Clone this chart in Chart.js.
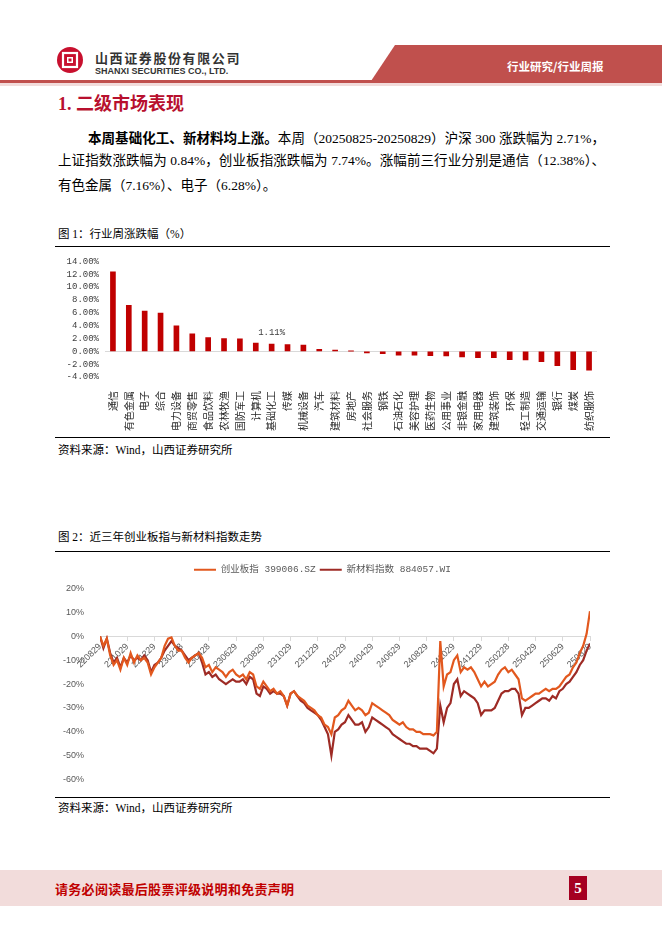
<!DOCTYPE html>
<html lang="zh-CN">
<head>
<meta charset="utf-8">
<title>行业周报 - 二级市场表现</title>
<script src="https://cdn.jsdelivr.net/npm/chart.js@4.4.1/dist/chart.umd.min.js"></script>
<style>
  html, body { margin: 0; padding: 0; background: #fff; }
  body { width: 662px; height: 936px; position: relative; overflow: hidden;
         font-family: "Liberation Serif", "Noto Sans CJK SC", serif; color: #000; }
  .abs { position: absolute; white-space: nowrap; }
  .banner { left: 0; top: 45px; width: 662px; height: 36px; background: #c0504d;
            clip-path: polygon(395px 0, 662px 0, 662px 36px, 371px 36px); }
  .banner-text { left: 507px; top: 58px; font: bold 11.5px "Noto Sans CJK SC", sans-serif; color: #fff; }
  .co-cn { left: 95px; top: 48px; font: bold 13px "Noto Sans CJK SC", sans-serif; color: #333; letter-spacing: 1.6px; }
  .co-en { left: 95px; top: 66px; font: bold 9px "Liberation Sans", sans-serif; color: #333; }
  .title { left: 58px; top: 89px; font: bold 18px "Liberation Serif", "Noto Sans CJK SC", serif; color: #b8102e; }
  .para { font-size: 13.5px; line-height: 20px; text-align: justify; text-align-last: justify; }
  .para b { font-family: "Noto Sans CJK SC", sans-serif; }
  .cap { left: 58px; font-size: 11.5px; line-height: 16px; }
  .rule { left: 55px; width: 555px; height: 1.5px; background: #000; }
  .footer { left: 0; top: 870px; width: 662px; height: 36px; background: #f2dcdb; }
  .footer-text { left: 55px; top: 879px; font: bold 13px "Noto Sans CJK SC", sans-serif; color: #c00000; letter-spacing: 0.3px; }
  .page-no { left: 569px; top: 876px; width: 18px; height: 24px; background: #a50021; color: #fff;
             font: bold 15px "Liberation Serif", serif; text-align: center; line-height: 24px; }
</style>
</head>
<body>

<!-- header -->
<svg class="abs" style="left:56px;top:46px" width="28" height="28" viewBox="0 0 28 28">
  <circle cx="14" cy="14" r="13" fill="#c8102e"/>
  <rect x="7" y="7" width="14" height="14" fill="none" stroke="#fff" stroke-width="2.2"/>
  <rect x="11" y="11" width="6" height="6" fill="#fff"/>
  <rect x="12.5" y="12.5" width="3" height="3" fill="#c8102e"/>
</svg>
<div class="abs co-cn">山西证券股份有限公司</div>
<div class="abs co-en">SHANXI SECURITIES CO., LTD.</div>
<div class="abs banner"></div>
<div class="abs banner-text">行业研究/行业周报</div>
<div class="abs" style="left:0;top:80px;width:662px;height:3px;background:#c0504d"></div>
<div class="abs" style="left:0;top:83px;width:662px;height:3px;background:#f2dcdb"></div>

<div class="abs title">1. 二级市场表现</div>

<div class="abs para" style="left:88px;top:127px;width:517px"><b>本周基础化工、新材料均上涨。</b>本周（20250825-20250829）沪深 300 涨跌幅为 2.71%，</div>
<div class="abs para" style="left:58px;top:151px;width:547px">上证指数涨跌幅为 0.84%，创业板指涨跌幅为 7.74%。涨幅前三行业分别是通信（12.38%）、</div>
<div class="abs para" style="left:58px;top:176px;text-align:left;text-align-last:left">有色金属（7.16%）、电子（6.28%）。</div>

<!-- figure 1 -->
<div class="abs cap" style="top:226px">图 1：行业周涨跌幅（%）</div>
<div class="abs rule" style="top:245.5px"></div>
<canvas id="barChart" class="abs" style="left:55px;top:250px" width="555" height="182"></canvas>
<div class="abs rule" style="top:436.5px"></div>
<div class="abs cap" style="top:442px">资料来源：Wind，山西证券研究所</div>

<!-- figure 2 -->
<div class="abs cap" style="top:529px">图 2：近三年创业板指与新材料指数走势</div>
<div class="abs rule" style="top:550.5px"></div>
<canvas id="lineChart" class="abs" style="left:55px;top:553px" width="555" height="240"></canvas>
<div class="abs rule" style="top:796.5px"></div>
<div class="abs cap" style="top:800px">资料来源：Wind，山西证券研究所</div>

<!-- footer -->
<div class="abs footer"></div>
<div class="abs footer-text">请务必阅读最后股票评级说明和免责声明</div>
<div class="abs page-no">5</div>

<script>
// ---- figure 1: weekly change by industry (%) ----
const industries = [
  "通信", "有色金属", "电子", "综合", "电力设备", "商贸零售", "食品饮料", "农林牧渔",
  "国防军工", "计算机", "基础化工", "传媒", "机械设备", "汽车", "建筑材料", "房地产",
  "社会服务", "钢铁", "石油石化", "美容护理", "医药生物", "公用事业", "非银金融",
  "家用电器", "建筑装饰", "环保", "轻工制造", "交通运输", "银行", "煤炭", "纺织服饰"
];
const weekChange = [
  12.38, 7.16, 6.28, 5.94, 3.98, 2.74, 2.12, 2.00,
  1.96, 1.29, 1.11, 1.03, 0.98, 0.30, 0.18, 0.03,
  -0.25, -0.36, -0.62, -0.62, -0.67, -0.72, -0.88,
  -0.98, -0.98, -1.29, -1.34, -1.60, -2.22, -2.84, -2.95
];
const barAxisTicks = [-4, -2, 0, 2, 4, 6, 8, 10, 12, 14];
const highlighted = "基础化工";

// ---- figure 2: ChiNext vs new-materials index, cumulative change (%) ----
// one reading per quarter month, from 2022-08-29 to 2025-08-29
const stepMonths = 0.25;
const chinextValues = [
  0, -4, -1, -8,       -12, -10, -14, -9,     -12, -7, -11, -8,      -10, -9, -11, -16,
  -13, -11, -9, -4,    -1, -0.5, -4, -6,      -6, -9, -11, -9,       -8, -7, -9, -13,
  -12, -15, -13, -14,  -15, -17, -15, -14,    -16, -17, -16, -18,    -15, -16, -21, -22,
  -19, -21, -23, -22,  -24, -23, -25, -29,    -24, -23, -25, -26,    -27, -29, -30, -31,
  -33, -34, -37, -38,  -41, -34, -33, -31,    -30, -27, -29, -31,    -30, -31, -33, -32,
  -28, -29, -30, -31,  -32, -33, -35, -36,    -37, -36, -38, -39,    -39, -40, -40, -41,
  -41, -41, -41.5, -40, -2, -21, -16, -15,    -10, -8, -15, -13,     -14, -13, -15, -18,
  -21, -19, -21, -20,  -19, -16, -14, -13,    -15, -14, -16, -18,    -26, -27, -26, -25,
  -24, -24, -23, -22,  -23, -22, -22, -21,    -19, -17, -16, -13,    -11, -7, -4, 1,
  10.5
];
const newMaterialValues = [
  0, -5, -1, -7,       -11, -9, -13, -9,      -11, -8, -10, -9,      -10, -8, -10, -15,
  -12, -11, -9, -6,    -4, -2, -4, -5,        -6, -8, -10, -9,       -8, -7, -11, -16,
  -15, -17, -16, -18,  -19, -20, -19, -18,    -19, -19, -18, -20,    -17, -18, -24, -25,
  -21, -22, -24, -23,  -24, -24, -25, -29,    -24, -23, -25, -27,    -28, -30, -31, -32,
  -33, -35, -38, -41,  -50, -40, -39, -37,    -36, -33, -35, -37,    -37, -36, -40, -38,
  -34, -35, -36, -37,  -38, -39, -41, -42,    -43, -44, -45, -45,    -46, -46, -47, -47,
  -47, -48, -49, -47,  -29, -36, -30, -28,    -20, -18, -25, -23,    -24, -25, -26, -28,
  -33, -31, -31, -31,  -30, -27, -24, -23,    -23, -22, -22, -24,    -33, -30, -30, -29,
  -28, -27, -26, -26,  -27, -25, -26, -23,    -22, -20, -19, -17,    -15, -12, -10, -6,
  -3
];
const dateTicks = [
  "220829", "221029", "221229", "230228", "230428", "230629", "230829",
  "231029", "231229", "240229", "240429", "240629", "240829",
  "241029", "241229", "250228", "250429", "250629", "250829"
];
const lineAxisTicks = [-60, -50, -40, -30, -20, -10, 0, 10, 20];

const monoCjk = '"Liberation Mono", "Noto Sans CJK SC", monospace';

// data label over the highlighted industry bar
const highlightLabel = {
  id: "highlightLabel",
  afterDatasetsDraw(chart) {
    const idx = industries.indexOf(highlighted);
    const bar = chart.getDatasetMeta(0).data[idx];
    const ctx = chart.ctx;
    ctx.save();
    ctx.font = "9px " + monoCjk;
    ctx.fillStyle = "#404040";
    ctx.textAlign = "center";
    ctx.textBaseline = "bottom";
    ctx.fillText(weekChange[idx].toFixed(2) + "%", bar.x, bar.y - 7);
    ctx.restore();
  }
};

new Chart(document.getElementById("barChart"), {
  type: "bar",
  data: {
    labels: industries,
    datasets: [{ data: weekChange, backgroundColor: "#c00000", barThickness: 5 }]
  },
  options: {
    responsive: false,
    animation: false,
    events: [],
    layout: { padding: { top: 11, right: 13 } },
    plugins: { legend: { display: false }, tooltip: { enabled: false } },
    scales: {
      x: {
        grid: { display: false },
        border: { display: false },
        ticks: {
          autoSkip: false, minRotation: 90, maxRotation: 90, padding: 6,
          color: "#262626", font: { family: "Noto Sans CJK SC", size: 10 }
        },
        afterFit: (s) => { s.height = 55; }
      },
      y: {
        min: barAxisTicks[0],
        max: barAxisTicks[barAxisTicks.length - 1],
        border: { display: false },
        grid: {
          drawTicks: false,
          color: (c) => (c.tick && c.tick.value === 0 ? "#d9d9d9" : "transparent")
        },
        ticks: {
          stepSize: 2, autoSkip: false, padding: 6, color: "#404040",
          font: { family: monoCjk, size: 9 },
          callback: (v) => v.toFixed(2) + "%"
        },
        afterFit: (s) => { s.width = 50; }
      }
    }
  },
  plugins: [highlightLabel]
});

// leave a little room under the legend
const legendGap = {
  id: "legendGap",
  beforeInit(chart) {
    const fit = chart.legend.fit;
    chart.legend.fit = function () {
      fit.call(this);
      this.height += 4;
    };
  }
};

const toPoints = (arr) => arr.map((v, i) => ({ x: i * stepMonths, y: v }));

new Chart(document.getElementById("lineChart"), {
  type: "line",
  data: {
    datasets: [
      { label: "创业板指 399006.SZ", data: toPoints(chinextValues),
        borderColor: "#e2581e", backgroundColor: "#e2581e", borderWidth: 2.2,
        pointRadius: 0, tension: 0 },
      { label: "新材料指数 884057.WI", data: toPoints(newMaterialValues),
        borderColor: "#9e2b25", backgroundColor: "#9e2b25", borderWidth: 2.2,
        pointRadius: 0, tension: 0 }
    ]
  },
  options: {
    responsive: false,
    animation: false,
    events: [],
    layout: { padding: { top: 8, right: 20, bottom: 13 } },
    plugins: {
      tooltip: { enabled: false },
      legend: {
        position: "top",
        labels: {
          usePointStyle: true, pointStyle: "line", pointStyleWidth: 22,
          padding: 4, color: "#595959", font: { family: monoCjk, size: 9.5 }
        }
      }
    },
    scales: {
      x: {
        type: "linear",
        position: { y: 0 },
        min: 0,
        max: (dateTicks.length - 1) * 2,
        grid: { drawOnChartArea: false, drawTicks: true, tickLength: 4, color: "#d9d9d9" },
        border: { display: true, color: "#d9d9d9" },
        ticks: {
          stepSize: 2, autoSkip: false, minRotation: 45, maxRotation: 45, padding: 1,
          color: "#595959", font: { family: "Liberation Sans", size: 9 },
          callback: (v) => dateTicks[Math.round(v / 2)]
        },
        afterFit: (s) => { s.height = 0; }
      },
      y: {
        min: lineAxisTicks[0],
        max: lineAxisTicks[lineAxisTicks.length - 1],
        grid: { display: false },
        border: { display: false },
        ticks: {
          stepSize: 10, autoSkip: false, padding: 8, color: "#595959",
          font: { family: "Liberation Sans", size: 9 },
          callback: (v) => v + "%"
        },
        afterFit: (s) => { s.width = 45; }
      }
    }
  },
  plugins: [legendGap]
});
</script>
</body>
</html>
